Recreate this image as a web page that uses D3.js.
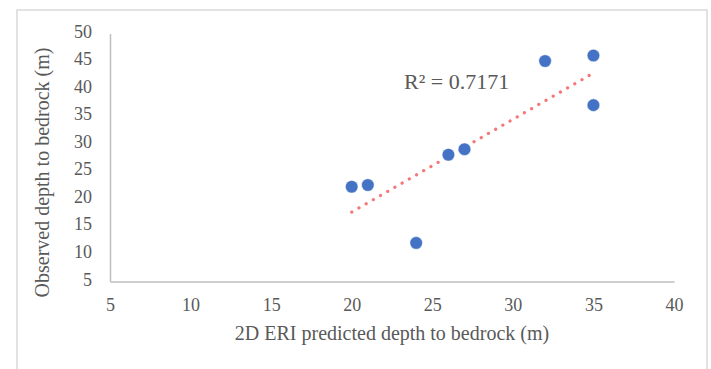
<!DOCTYPE html>
<html>
<head>
<meta charset="utf-8">
<script src="https://cdn.jsdelivr.net/npm/d3@7"></script>
<style>
  html, body { margin: 0; padding: 0; background: #fff; }
  svg { display: block; }
  text { font-family: "Liberation Serif", "Times New Roman", serif; fill: #595959; }
</style>
</head>
<body>
<svg id="chart" width="711" height="369"></svg>
<script>
// ---- data ----
const predictedDepth = [20, 21, 24, 26, 27, 32, 35, 35];
const observedDepth  = [22.2, 22.5, 12, 28, 29, 45, 46, 37];
const xTicks = [5, 10, 15, 20, 25, 30, 35, 40];
const yTicks = [5, 10, 15, 20, 25, 30, 35, 40, 45, 50];
const xTitle = "2D ERI predicted depth to bedrock (m)";
const yTitle = "Observed depth to bedrock (m)";
const r2Label = "R\u00B2 = 0.7171";

const svg = d3.select("#chart");

// chart border
svg.append("rect")
  .attr("x", 17).attr("y", 10).attr("width", 690).attr("height", 380)
  .attr("fill", "none").attr("stroke", "#D9D9D9").attr("stroke-width", 1.5);

const x = d3.scaleLinear().domain([5, 40]).range([110, 674]);
const y = d3.scaleLinear().domain([5, 50]).range([281.5, 33.5]);

// axes
const xAxis = svg.append("g").attr("transform", `translate(0,${y(5)})`)
  .call(d3.axisBottom(x).tickValues(xTicks).tickSize(0).tickPadding(17));
const yAxis = svg.append("g").attr("transform", `translate(${x(5)},0)`)
  .call(d3.axisLeft(y).tickValues(yTicks).tickSize(0).tickPadding(18));

[xAxis, yAxis].forEach(g => {
  g.select(".domain").attr("stroke", "#BFBFBF").attr("stroke-width", 1.5);
  g.selectAll("text")
    .attr("font-family", "Liberation Serif, Times New Roman, serif")
    .attr("font-size", 18).attr("fill", "#595959");
});
yAxis.selectAll("text").attr("dy", "0.2em");

// axis titles
svg.append("text")
  .attr("x", (x(5) + x(40)) / 2).attr("y", 340)
  .attr("text-anchor", "middle").attr("font-size", 20)
  .text(xTitle);
svg.append("text")
  .attr("transform", `translate(49,${(y(5) + y(50)) / 2 + 15}) rotate(-90)`)
  .attr("text-anchor", "middle").attr("font-size", 20)
  .text(yTitle);

// linear trendline computed from the data
const n = predictedDepth.length;
const mx = d3.mean(predictedDepth), my = d3.mean(observedDepth);
let sxy = 0, sxx = 0;
for (let i = 0; i < n; i++) {
  sxy += (predictedDepth[i] - mx) * (observedDepth[i] - my);
  sxx += (predictedDepth[i] - mx) ** 2;
}
const slope = sxy / sxx, intercept = my - slope * mx;
const x0 = d3.min(predictedDepth), x1 = d3.max(predictedDepth);

svg.append("line")
  .attr("x1", x(x0)).attr("y1", y(slope * x0 + intercept))
  .attr("x2", x(x1)).attr("y2", y(slope * x1 + intercept))
  .attr("stroke", "#F4777A").attr("stroke-width", 3.2)
  .attr("stroke-linecap", "round").attr("stroke-dasharray", "0.1 8.2");

// points
svg.append("g").selectAll("circle")
  .data(predictedDepth.map((d, i) => [d, observedDepth[i]]))
  .join("circle")
  .attr("cx", d => x(d[0])).attr("cy", d => y(d[1]))
  .attr("r", 6.3).attr("fill", "#4472C4")
  .attr("stroke", "#ffffff").attr("stroke-opacity", 0.6).attr("stroke-width", 0.8);

// R² label
svg.append("text")
  .attr("x", 404).attr("y", 89).attr("font-size", 22)
  .text(r2Label);
</script>
</body>
</html>
